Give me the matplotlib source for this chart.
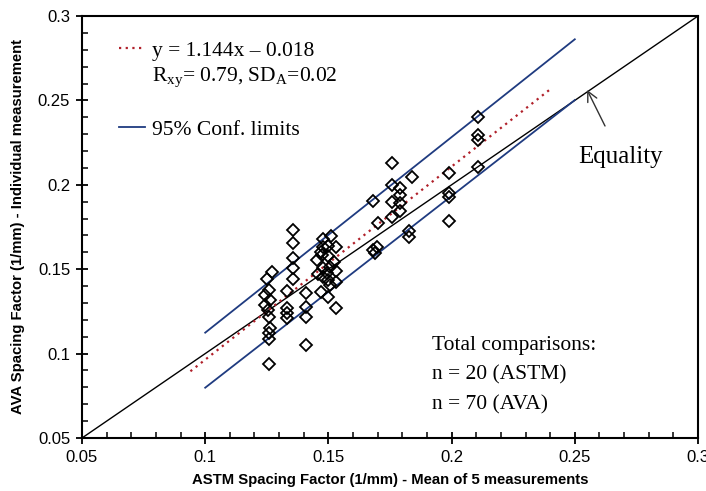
import matplotlib
matplotlib.use("Agg")
import matplotlib.pyplot as plt
from matplotlib.ticker import MultipleLocator, FuncFormatter
from matplotlib.lines import Line2D

plt.rcParams['mathtext.fontset'] = 'custom'
plt.rcParams['mathtext.rm'] = 'Liberation Serif'
plt.rcParams['mathtext.it'] = 'Liberation Serif:italic'

# ASTM (mean of 5) vs AVA individual spacing factor, 1/mm
astm = [0.127, 0.125, 0.126, 0.1243, 0.1263, 0.1243, 0.1256, 0.126, 0.1263, 0.126, 0.126, 0.126,
        0.1331, 0.1331, 0.1331, 0.1331,
        0.1358, 0.1358, 0.1358, 0.1358, 0.1358,
        0.1409, 0.1409, 0.1409, 0.1409,
        0.1479, 0.1469, 0.1455, 0.1479, 0.1459, 0.1479, 0.1469, 0.1473, 0.1479,
        0.1509, 0.150, 0.150, 0.1506, 0.1496, 0.150, 0.1506, 0.150,
        0.1531, 0.1524, 0.1531, 0.1531, 0.1531,
        0.168, 0.170, 0.1696, 0.168, 0.1689,
        0.1759, 0.1759, 0.1759, 0.1759,
        0.1791, 0.1791, 0.1791, 0.1791,
        0.184, 0.1828, 0.1828,
        0.1991, 0.1991, 0.1991, 0.1991,
        0.2108, 0.2108, 0.2108, 0.2108]
ava = [0.1485, 0.144, 0.1377, 0.1347, 0.1318, 0.1288, 0.1258, 0.1215, 0.115, 0.112, 0.1085, 0.0938,
       0.1373, 0.1268, 0.1239, 0.1209,
       0.1732, 0.1653, 0.1568, 0.1509, 0.1442,
       0.1361, 0.1274, 0.1219, 0.1051,
       0.1677, 0.1604, 0.1554, 0.1505, 0.1472, 0.1456, 0.1367, 0.1584, 0.1633,
       0.1697, 0.1637, 0.1578, 0.1515, 0.1479, 0.1436, 0.1406, 0.1334,
       0.1633, 0.1544, 0.1491, 0.1426, 0.1268,
       0.1906, 0.1775, 0.163, 0.1614, 0.1598,
       0.2131, 0.1999, 0.1896, 0.1807,
       0.1979, 0.194, 0.189, 0.1847,
       0.2048, 0.1728, 0.1693,
       0.2068, 0.195, 0.1926, 0.1787,
       0.2403, 0.2295, 0.2265, 0.2107]

slope, intercept = 1.144, -0.018
fit_x = [0.094, 0.2405]
conf_x = [0.10, 0.25]
conf_upper = [0.1124, 0.2862]
conf_lower = [0.0798, 0.2502]
equality = [0.05, 0.30]

navy = '#1f3b80'
serif = ['Liberation Serif', 'DejaVu Serif']
narrow = ['Liberation Sans Narrow', 'Liberation Sans', 'DejaVu Sans']

fig = plt.figure(figsize=(7.06, 4.91), dpi=100)
ax = fig.add_axes([82 / 706, 1 - 438 / 491, 616 / 706, 422 / 491])

ax.plot(equality, equality, color='black', lw=1.0)
fit_line, = ax.plot(fit_x, [slope * v + intercept for v in fit_x], color='#b0202a',
                    ls=(0, (1, 2)), lw=1.6)
conf_line, = ax.plot(conf_x, conf_upper, color=navy, lw=1.3)
ax.plot(conf_x, conf_lower, color=navy, lw=1.3)
ax.plot(astm, ava, ls='none', marker='D', markersize=6.5, mfc='none', mec='black', mew=1.3)

ax.set_xlim(0.05, 0.3)
ax.set_ylim(0.05, 0.3)
ax.xaxis.set_major_locator(MultipleLocator(0.05))
ax.yaxis.set_major_locator(MultipleLocator(0.05))
ax.xaxis.set_minor_locator(MultipleLocator(0.01))
ax.yaxis.set_minor_locator(MultipleLocator(0.01))
fmt = FuncFormatter(lambda v, p: '%g' % round(v, 3))
ax.xaxis.set_major_formatter(fmt)
ax.yaxis.set_major_formatter(fmt)
ax.tick_params(which='major', direction='inout', length=9, width=1.3, labelsize=12, pad=4)
ax.tick_params(which='minor', direction='in', length=4, width=1.1)
for lab in ax.get_xticklabels() + ax.get_yticklabels():
    lab.set_family(narrow)
for sp in ax.spines.values():
    sp.set_linewidth(1.5)

ax.set_xlabel('ASTM Spacing Factor (1/mm) - Mean of 5 measurements', family=narrow,
              fontweight='bold', fontsize=10.7, labelpad=6)
ax.set_ylabel('AVA Spacing Factor (1/mm) - Individual measurement', family=narrow,
              fontweight='bold', fontsize=10.7, labelpad=9)

blank = Line2D([], [], color='none')
ax.legend([fit_line, blank, blank, conf_line],
          ['y = 1.144x \u2013 0.018', r'R$_{\rm xy}$= 0.79, SD$_{\rm A}$=0.02', '', '95% Conf. limits'],
          loc='upper left', bbox_to_anchor=(0.039, 0.9725), borderaxespad=0,
          prop={'family': serif, 'size': 15.5}, handlelength=1.2, handletextpad=0.35,
          labelspacing=0.24, frameon=True, framealpha=1, edgecolor='none', fancybox=False,
          borderpad=0.6)

ax.annotate('Equality', xy=(0.255, 0.2562), xytext=(0.2685, 0.2165), family=serif, fontsize=18,
            ha='center', va='center',
            bbox=dict(boxstyle='square,pad=0.5', fc='white', ec='none'),
            arrowprops=dict(arrowstyle='->', color='#333333', lw=1.0, shrinkA=6, shrinkB=0))

ax.text(0.192, 0.1105, 'Total comparisons:\nn = 20 (ASTM)\nn = 70 (AVA)', family=serif,
        fontsize=15.5, ha='left', va='top', linespacing=1.75,
        bbox=dict(boxstyle='square,pad=0.8', fc='white', ec='none'))

fig.savefig('out.png', dpi=100, facecolor='white')
